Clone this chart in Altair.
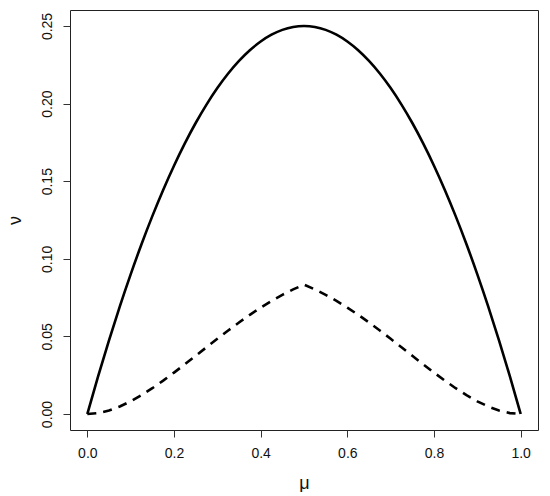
import altair as alt
import pandas as pd

mu = [round(i * 0.025, 3) for i in range(41)]

nu_solid = [0.0, 0.024375, 0.0475, 0.069375, 0.09, 0.109375, 0.1275, 0.144375,
            0.16, 0.174375, 0.1875, 0.199375, 0.21, 0.219375, 0.2275, 0.234375,
            0.24, 0.244375, 0.2475, 0.249375, 0.25,
            0.249375, 0.2475, 0.244375, 0.24, 0.234375, 0.2275, 0.219375, 0.21,
            0.199375, 0.1875, 0.174375, 0.16, 0.144375, 0.1275, 0.109375, 0.09,
            0.069375, 0.0475, 0.024375, 0.0]

nu_dashed_left = [0.0, 0.000595, 0.002262, 0.00484, 0.008182, 0.012153, 0.01663,
                  0.021503, 0.026667, 0.032028, 0.0375, 0.043002, 0.048462,
                  0.053809, 0.058981, 0.06392, 0.068571, 0.072884, 0.07681,
                  0.080308, 0.083333]
nu_dashed = nu_dashed_left + nu_dashed_left[-2::-1]

x_ticks = [0.0, 0.2, 0.4, 0.6, 0.8, 1.0]
y_ticks = [0.0, 0.05, 0.10, 0.15, 0.20, 0.25]

df_s = pd.DataFrame({"mu": mu, "nu": nu_solid})
df_d = pd.DataFrame({"mu": mu, "nu": nu_dashed})

FONT = "Liberation Sans"

xs = alt.Scale(domain=[-0.04, 1.04], nice=False, zero=False)
ys = alt.Scale(domain=[-0.0103, 0.2603], nice=False, zero=False)

xaxis = alt.Axis(values=x_ticks, format=".1f", title="μ", grid=False, domain=False,
                 tickSize=7, tickColor="#333", tickWidth=1,
                 labelFont=FONT, labelFontSize=14, labelColor="#111",
                 labelPadding=9, titleFont=FONT, titleFontSize=18,
                 titleFontWeight="normal", titleColor="#111",
                 titleY=53, titleBaseline="middle")
yaxis = alt.Axis(values=y_ticks, format=".2f", title="ν", grid=False, domain=False,
                 tickSize=7, tickColor="#333", tickWidth=1,
                 labelFont=FONT, labelFontSize=14, labelColor="#111",
                 labelAngle=270, labelAlign="center", labelBaseline="bottom",
                 labelPadding=9, titleFont=FONT, titleFontSize=18,
                 titleFontWeight="normal", titleColor="#111",
                 titleAngle=270, titleX=-55, titleBaseline="middle",
                 titleAlign="center")

solid = alt.Chart(df_s).mark_line(color="black", strokeWidth=2.6,
                                   interpolate="monotone").encode(
    x=alt.X("mu:Q", scale=xs, axis=xaxis),
    y=alt.Y("nu:Q", scale=ys, axis=yaxis),
)
dashed = alt.Chart(df_d).mark_line(color="black", strokeWidth=2.6,
                                    strokeDash=[9, 7]).encode(
    x=alt.X("mu:Q", scale=xs),
    y=alt.Y("nu:Q", scale=ys),
)

chart = alt.layer(solid, dashed).properties(
    width=468, height=420,
    autosize=alt.AutoSizeParams(type="none"),
    padding={"left": 62, "top": 2, "right": 4, "bottom": 62},
    background="white",
).configure_view(stroke="#222", strokeWidth=1)

chart.save("out.html", embed_options={"renderer": "svg", "actions": False})
